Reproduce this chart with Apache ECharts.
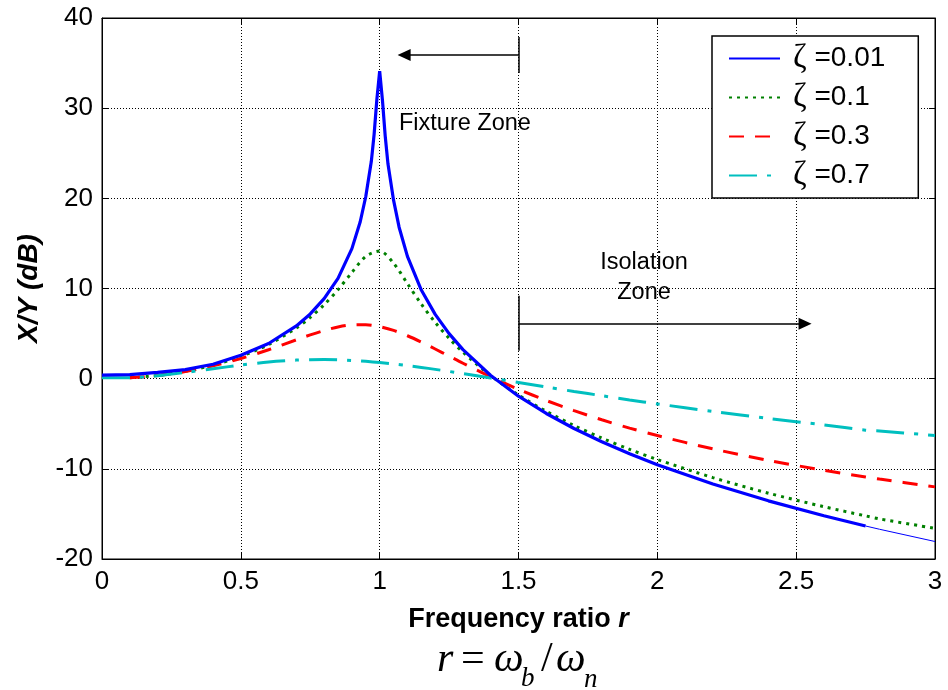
<!DOCTYPE html>
<html>
<head>
<meta charset="utf-8">
<script src="https://cdn.jsdelivr.net/npm/echarts@6/dist/echarts.min.js"></script>
<style>
  html, body { margin: 0; padding: 0; background: #fff; }
  #chart { width: 948px; height: 690px; }
</style>
</head>
<body>
<div id="chart"></div>
<script>
// ---- data ----
const seriesNames = ['ζ =0.01', 'ζ =0.1', 'ζ =0.3', 'ζ =0.7'];

// frequency ratio grid for the lightly damped curve (dense near resonance)
const rFine = [0, 0.1, 0.2, 0.3, 0.4, 0.5, 0.6, 0.7, 0.75, 0.8, 0.85, 0.9, 0.93, 0.95, 0.97, 0.98, 0.99, 1.0,
  1.01, 1.02, 1.03, 1.05, 1.07, 1.1, 1.15, 1.2, 1.25, 1.3, 1.4, 1.5, 1.6, 1.7, 1.8, 1.9, 2.0, 2.2, 2.4, 2.6, 2.75, 2.8, 3.0];
const zeta001 = [0.4, 0.45, 0.7, 1.0, 1.6, 2.6, 3.9, 5.85, 7.18, 8.87, 11.13, 14.42, 17.4, 20.2, 24.1, 27.1, 31.0, 34.1,
  30.9, 26.9, 23.8, 19.8, 16.8, 13.56, 9.83, 7.13, 5.0, 3.22, 0.35, -1.94, -3.86, -5.53, -7.0, -8.33, -9.54, -11.69, -13.55, -15.21, -16.34, -16.7, -18.06];

// frequency ratio grid for the other curves
const rGrid = [0, 0.1, 0.2, 0.3, 0.4, 0.5, 0.6, 0.7, 0.75, 0.8, 0.85, 0.9, 0.95, 1.0, 1.05, 1.1, 1.15, 1.2, 1.25, 1.3,
  1.4, 1.5, 1.6, 1.7, 1.8, 1.9, 2.0, 2.2, 2.4, 2.6, 2.75, 2.8, 3.0];
const zeta01 = [null, 0.1, 0.35, 0.82, 1.5, 2.47, 3.79, 5.62, 6.79, 8.2, 9.87, 11.78, 13.56, 14.15, 12.81, 10.54, 8.27, 6.24, 4.48, 2.93,
  0.33, -1.81, -3.62, -5.19, -6.59, -7.84, -8.97, -10.97, -12.7, -14.2, -15.22, -15.55, -16.6];
const zeta03 = [null, 0.09, 0.35, 0.79, 1.42, 2.23, 3.21, 4.31, 4.85, 5.34, 5.73, 5.96, 5.98, 5.77, 5.35, 4.76, 4.06, 3.29, 2.5, 1.71,
  0.2, -1.18, -2.42, -3.54, -4.56, -5.48, -6.31, -7.79, -9.06, -10.16, -10.9, -11.13, -12.0];
const zeta07 = [0.1, 0.1, 0.33, 0.69, 1.1, 1.51, 1.85, 2.06, 2.11, 2.12, 2.09, 2.02, 1.92, 1.79, 1.63, 1.45, 1.25, 1.03, 0.8, 0.56,
  0.07, -0.43, -0.93, -1.42, -1.89, -2.36, -2.8, -3.64, -4.41, -5.13, -5.71, -5.8, -6.3];

// annotation arrows in data units [r, dB]
const fixtureArrow = [[1.5, 35.9], [1.088, 35.9]];
const fixtureTick = [[1.5, 37.9], [1.5, 33.9]];
const isolationArrow = [[1.5, 6.1], [2.532, 6.1]];
const isolationTick = [[1.5, 9.2], [1.5, 3.1]];

// ---- build ----
function pairs(xs, ys, from, to) {
  const out = [];
  const end = to === undefined ? xs.length : to;
  for (let i = from; i < end; i++) out.push([xs[i], ys[i]]);
  return out;
}
const tailIdx = rFine.indexOf(2.75);

const FONT = '"Liberation Sans", Arial, sans-serif';
const chart = echarts.init(document.getElementById('chart'), null, { renderer: 'canvas' });

const baseAxisLine = { show: true, onZero: false, lineStyle: { color: '#000', width: 1 } };

const option = {
  backgroundColor: '#fff',
  animation: false,
  grid: { left: 102, top: 18, right: 13, bottom: 131, show: true, borderColor: '#000', borderWidth: 1, backgroundColor: '#fff' },
  legend: {
    data: seriesNames,
    left: 712, top: 36,
    orient: 'vertical',
    padding: [6, 33, 6, 16],
    itemGap: 6,
    itemWidth: 51,
    itemHeight: 14,
    itemTextGap: 25,
    borderColor: '#000',
    borderWidth: 1.5,
    backgroundColor: '#fff',
    selectedMode: false,
    itemStyle: { opacity: 0 },
    formatter: function (name) { return '{z|ζ}{t|' + name.slice(1) + '}'; },
    textStyle: {
      color: '#000', fontFamily: FONT, fontSize: 28,
      rich: {
        z: { fontFamily: '"Liberation Serif", "DejaVu Serif", serif', fontSize: 33, color: '#000', lineHeight: 30, padding: [0, 0, 0, 8] },
        t: { fontFamily: FONT, fontSize: 28, color: '#000', lineHeight: 30 }
      }
    }
  },
  xAxis: [{
    type: 'value', min: 0, max: 3, interval: 0.5,
    axisLine: baseAxisLine,
    axisTick: { show: true, inside: true, length: 6, lineStyle: { color: '#000' } },
    axisLabel: { color: '#000', fontFamily: FONT, fontSize: 26, margin: 10 },
    splitLine: { show: true, lineStyle: { color: '#000', type: [1, 2], width: 1 } },
    name: '{b|Frequency ratio }{bi|r}',
    nameLocation: 'middle',
    nameGap: 47,
    nameTextStyle: {
      rich: {
        b: { fontFamily: FONT, fontWeight: 'bold', fontSize: 27, color: '#000' },
        bi: { fontFamily: FONT, fontWeight: 'bold', fontStyle: 'italic', fontSize: 27, color: '#000' }
      }
    }
  }, {
    type: 'value', min: 0, max: 3, interval: 0.5, position: 'top',
    axisLine: baseAxisLine,
    axisTick: { show: true, inside: true, length: 6, lineStyle: { color: '#000' } },
    axisLabel: { show: false }, splitLine: { show: false }
  }],
  yAxis: [{
    type: 'value', min: -20, max: 40, interval: 10,
    axisLine: baseAxisLine,
    axisTick: { show: true, inside: true, length: 6, lineStyle: { color: '#000' } },
    axisLabel: { color: '#000', fontFamily: FONT, fontSize: 26, margin: 9 },
    splitLine: { show: true, lineStyle: { color: '#000', type: [1, 2], width: 1 } },
    name: 'X/Y (dB)',
    nameLocation: 'middle',
    nameGap: 59,
    nameTextStyle: { fontFamily: FONT, fontWeight: 'bold', fontStyle: 'italic', fontSize: 28, color: '#000' }
  }, {
    type: 'value', min: -20, max: 40, interval: 10, position: 'right',
    axisLine: baseAxisLine,
    axisTick: { show: true, inside: true, length: 6, lineStyle: { color: '#000' } },
    axisLabel: { show: false }, splitLine: { show: false }
  }],
  series: [
    {
      name: seriesNames[1], type: 'line', symbol: 'none', smooth: 0.3,
      data: pairs(rGrid, zeta01, 0),
      lineStyle: { color: '#008000', width: 3, type: [3, 5] },
      itemStyle: { color: '#008000' }, z: 3
    },
    {
      name: seriesNames[2], type: 'line', symbol: 'none', smooth: 0.3,
      data: pairs(rGrid, zeta03, 0),
      lineStyle: { color: '#ff0000', width: 3, type: [15, 11] },
      itemStyle: { color: '#ff0000' }, z: 3
    },
    {
      name: seriesNames[3], type: 'line', symbol: 'none', smooth: 0.3,
      data: pairs(rGrid, zeta07, 0),
      lineStyle: { color: '#00bfbf', width: 3, type: [28, 10, 4, 10] },
      itemStyle: { color: '#00bfbf' }, z: 3
    },
    {
      name: seriesNames[0], type: 'line', symbol: 'none',
      data: pairs(rFine, zeta001, 0, tailIdx + 1),
      lineStyle: { color: '#0000ff', width: 3.2 },
      itemStyle: { color: '#0000ff' }, z: 4
    },
    {
      name: 'tail', type: 'line', symbol: 'none',
      data: pairs(rFine, zeta001, tailIdx),
      lineStyle: { color: '#0000ff', width: 1 },
      itemStyle: { color: '#0000ff' }, z: 4
    },
    {
      name: 'annotations', type: 'line', data: [], silent: true,
      markLine: {
        silent: true, animation: false,
        symbol: ['none', 'none'],
        label: { show: false },
        lineStyle: { color: '#000', type: 'solid', width: 1.5 },
        data: [
          [{ coord: fixtureArrow[0], symbol: 'none' }, { coord: fixtureArrow[1], symbol: 'triangle', symbolSize: [12, 13] }],
          [{ coord: fixtureTick[0], symbol: 'none' }, { coord: fixtureTick[1], symbol: 'none' }],
          [{ coord: isolationArrow[0], symbol: 'none' }, { coord: isolationArrow[1], symbol: 'triangle', symbolSize: [12, 13] }],
          [{ coord: isolationTick[0], symbol: 'none' }, { coord: isolationTick[1], symbol: 'none' }]
        ]
      }
    }
  ],
  graphic: [
    { type: 'text', left: 399, top: 112, style: { text: 'Fixture Zone', font: '23.5px ' + FONT, fill: '#000' } },
    { type: 'text', style: { x: 644, y: 263, text: 'Isolation', font: '23.5px ' + FONT, fill: '#000', textAlign: 'center', textVerticalAlign: 'middle' } },
    { type: 'text', style: { x: 644, y: 293, text: 'Zone', font: '23.5px ' + FONT, fill: '#000', textAlign: 'center', textVerticalAlign: 'middle' } },
    // r = ω_b / ω_n
    { type: 'text', style: { x: 437, y: 660, text: 'r', font: 'italic 42px "Liberation Serif", serif', fill: '#000', textVerticalAlign: 'middle' } },
    { type: 'text', style: { x: 461, y: 660, text: '=', font: '42px "Liberation Serif", serif', fill: '#000', textVerticalAlign: 'middle' } },
    { type: 'text', style: { x: 494, y: 660, text: 'ω', font: 'italic 42px "Liberation Serif", serif', fill: '#000', textVerticalAlign: 'middle' } },
    { type: 'text', style: { x: 521, y: 679, text: 'b', font: 'italic 27px "Liberation Serif", serif', fill: '#000', textVerticalAlign: 'middle' } },
    { type: 'text', style: { x: 541, y: 660, text: '/', font: '42px "Liberation Serif", serif', fill: '#000', textVerticalAlign: 'middle' } },
    { type: 'text', style: { x: 556, y: 660, text: 'ω', font: 'italic 42px "Liberation Serif", serif', fill: '#000', textVerticalAlign: 'middle' } },
    { type: 'text', style: { x: 584, y: 680, text: 'n', font: 'italic 27px "Liberation Serif", serif', fill: '#000', textVerticalAlign: 'middle' } }
  ]
};
chart.setOption(option);
</script>
</body>
</html>
